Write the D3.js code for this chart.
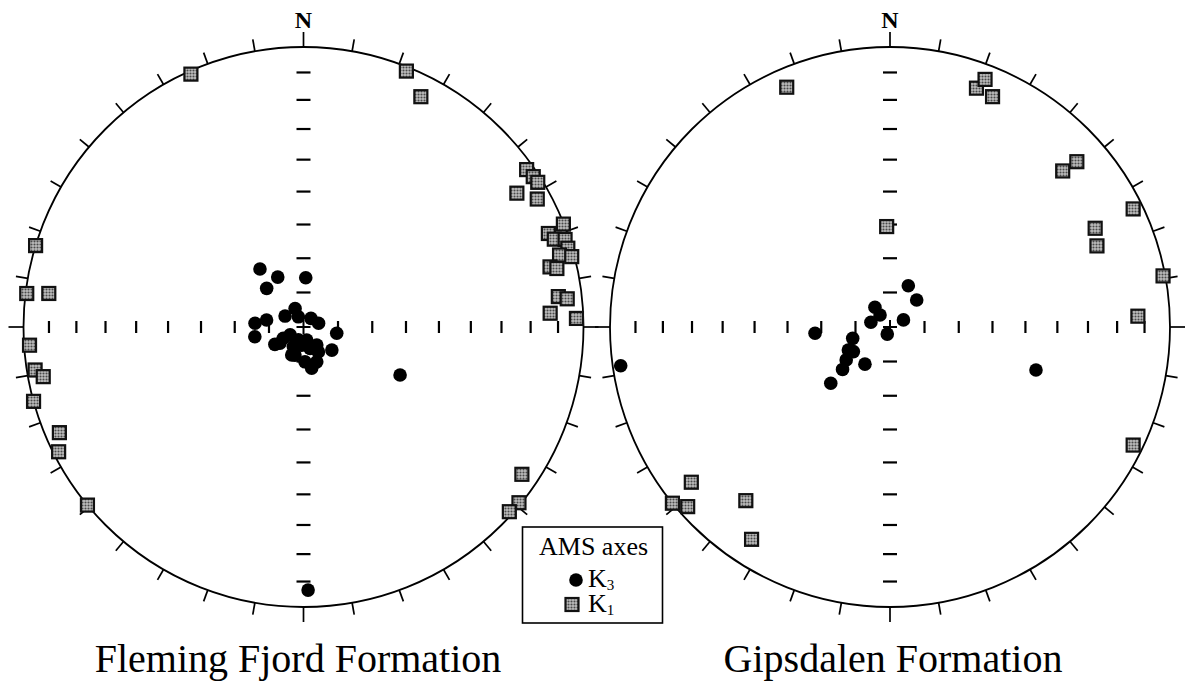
<!DOCTYPE html>
<html>
<head>
  <meta charset="utf-8">
  <script src="https://d3js.org/d3.v7.min.js"></script>
  <style>
    body { margin: 0; background: #fff; }
    text { font-family: "Liberation Serif", "Times New Roman", serif; fill: #000; }
  </style>
</head>
<body>
<script>
// AMS principal axes, lower hemisphere, trend / plunge in degrees

// Fleming Fjord Formation
var flemingK1Trend  = [336.0, 21.9, 27.0, 54.8, 56.8, 58.3, 57.9, 61.3, 68.4, 69.1,
                       70.7, 71.5, 73.4, 74.3, 75.3, 76.3, 77.0, 83.2, 83.9, 86.8,
                       88.2, 124.0, 129.2, 131.9, 286.9, 276.9, 277.5, 266.2, 260.9, 259.2,
                       254.6, 246.6, 243.0, 230.5];
var flemingK1Plunge = [1.3, 1.7, 8.5, 2.8, 2.2, 1.9, 11.0, 5.4, 0.2, 7.1,
                       5.7, 1.7, 1.7, 5.6, 1.1, 10.3, 7.9, 9.2, 5.9, 12.8,
                       2.8, 6.6, 0.8, 1.4, 0.0, 0.5, 9.1, 2.2, 3.3, 6.0,
                       0.0, 5.6, 2.1, 0.0];
var flemingK3Trend  = [323.1, 332.7, 2.6, 316.4, 335.6, 300.7, 333.2, 40.8, 76.0, 274.4,
                       280.8, 258.7, 238.7, 100.7, 129.2, 196.9, 143.7, 159.2, 240.8, 239.4,
                       201.8, 166.2, 207.4, 163.0, 202.8, 177.5, 149.1, 168.8, 235.3, 185.7,
                       116.4, 179.0];
var flemingK3Plunge = [68.9, 73.7, 75.7, 74.5, 84.1, 83.8, 86.7, 86.7, 85.5, 75.9,
                       79.1, 75.6, 80.3, 80.2, 79.4, 81.5, 83.5, 79.2, 83.3, 85.5,
                       86.0, 86.1, 83.6, 83.5, 81.2, 79.9, 81.6, 77.8, 81.7, 84.7,
                       58.4, 6.7];

// Gipsdalen Formation
var gipsK1Trend  = [336.7, 19.9, 21.0, 24.0, 47.9, 48.5, 64.1, 64.3, 68.6, 79.4,
                    87.5, 358.1, 115.9, 232.0, 231.0, 228.4, 219.7, 213.1];
var gipsK1Plunge = [7.5, 10.2, 5.9, 10.9, 18.0, 11.9, 3.9, 19.8, 21.7, 0.9,
                    12.4, 60.6, 3.9, 10.9, 0.0, 3.8, 20.5, 10.4];
var gipsK3Trend  = [23.9, 44.7, 322.7, 320.2, 283.9, 62.2, 201.1, 265.2, 253.1, 241.1,
                    236.1, 233.1, 214.0, 228.2, 226.5, 106.4, 261.8];
var gipsK3Plunge = [76.9, 79.0, 82.8, 85.5, 84.3, 85.6, 87.8, 68.1, 78.7, 76.2,
                    77.2, 74.1, 77.0, 71.5, 66.2, 44.8, 3.2];

var netTitles = ["Fleming Fjord Formation", "Gipsdalen Formation"];
var northLabel = "N";
var legendTitle = "AMS axes";
var legendKeys = [["K", "3"], ["K", "1"]];
var rimTrends = d3.range(0, 360, 10);
var gridPlunges = [10, 20, 30, 40, 50, 60, 70, 80];
var gridTrends = [0, 90, 180, 270];

var width = 1189, height = 684;

var svg = d3.select("body").append("svg")
    .attr("width", width)
    .attr("height", height);

// halftone grey used for the K1 squares
var pat = svg.append("defs").append("pattern")
    .attr("id", "halftone")
    .attr("width", 3).attr("height", 3)
    .attr("patternUnits", "userSpaceOnUse");
pat.append("rect").attr("width", 3).attr("height", 3).attr("fill", "#bdbdbd");
pat.append("circle").attr("cx", 1.5).attr("cy", 1.5).attr("r", 1.05).attr("fill", "#4a4a4a");

// Lambert equal-area (Schmidt net) projection, unit radius
function equalArea(trend, plunge) {
  var rad = Math.PI / 180;
  var r = Math.SQRT2 * Math.sin((90 - plunge) * rad / 2);
  return [r * Math.sin(trend * rad), r * Math.cos(trend * rad)];
}

function drawNet(net) {
  var x = d3.scaleLinear().domain([-1, 1]).range([net.cx - net.r, net.cx + net.r]);
  var y = d3.scaleLinear().domain([-1, 1]).range([net.cy + net.r, net.cy - net.r]);
  var g = svg.append("g");

  g.append("circle")
      .attr("cx", x(0)).attr("cy", y(0))
      .attr("r", x(1) - x(0))
      .attr("fill", "none")
      .attr("stroke", "#000")
      .attr("stroke-width", 1.8);

  // ticks round the primitive every 10 degrees
  g.selectAll(".rim").data(rimTrends).enter().append("line")
      .attr("class", "rim")
      .each(function(t) {
        var s = Math.sin(t * Math.PI / 180), c = Math.cos(t * Math.PI / 180);
        var len = (t % 90 === 0) ? 15 : 12;
        var x0 = x(s), y0 = y(c);
        d3.select(this)
            .attr("x1", x0).attr("y1", y0)
            .attr("x2", x0 + len * s).attr("y2", y0 - len * c);
      })
      .attr("stroke", "#000")
      .attr("stroke-width", 1.7);

  // plunge ticks along the N-S and E-W diameters
  var grid = [];
  gridTrends.forEach(function(t) {
    gridPlunges.forEach(function(p) { grid.push({t: t, p: p}); });
  });
  g.selectAll(".grid").data(grid).enter().append("line")
      .attr("class", "grid")
      .each(function(d) {
        var pt = equalArea(d.t, d.p);
        var px = x(pt[0]), py = y(pt[1]);
        var sel = d3.select(this);
        if (d.t % 180 === 0) {
          sel.attr("x1", px - 7).attr("x2", px + 7).attr("y1", py).attr("y2", py);
        } else {
          sel.attr("x1", px).attr("x2", px).attr("y1", py - 6).attr("y2", py + 6);
        }
      })
      .attr("stroke", "#000")
      .attr("stroke-width", 2.2);

  // centre cross
  g.append("path")
      .attr("d", "M" + (x(0) - 7) + "," + y(0) + "H" + (x(0) + 7) +
                 "M" + x(0) + "," + (y(0) - 7) + "V" + (y(0) + 7))
      .attr("stroke", "#000")
      .attr("stroke-width", 2);

  g.append("text")
      .attr("x", x(0))
      .attr("y", y(1) - 19)
      .attr("text-anchor", "middle")
      .style("font-size", "24px")
      .style("font-weight", "bold")
      .text(northLabel);

  var k3 = net.k3T.map(function(t, i) { return equalArea(t, net.k3P[i]); });
  g.selectAll(".k3").data(k3).enter().append("circle")
      .attr("class", "k3")
      .attr("cx", function(d) { return x(d[0]); })
      .attr("cy", function(d) { return y(d[1]); })
      .attr("r", 6.8)
      .attr("fill", "#000");

  var k1 = net.k1T.map(function(t, i) { return equalArea(t, net.k1P[i]); });
  g.selectAll(".k1").data(k1).enter().append("rect")
      .attr("class", "k1")
      .attr("x", function(d) { return x(d[0]) - 6.5; })
      .attr("y", function(d) { return y(d[1]) - 6.5; })
      .attr("width", 13).attr("height", 13)
      .attr("fill", "url(#halftone)")
      .attr("stroke", "#111")
      .attr("stroke-width", 2.2);

  svg.append("text")
      .attr("x", net.titleX)
      .attr("y", 672)
      .attr("text-anchor", "middle")
      .style("font-size", "40px")
      .text(net.title);
}

drawNet({cx: 303.5, cy: 327, r: 280, title: netTitles[0], titleX: 298,
         k1T: flemingK1Trend, k1P: flemingK1Plunge, k3T: flemingK3Trend, k3P: flemingK3Plunge});
drawNet({cx: 890, cy: 327, r: 280, title: netTitles[1], titleX: 893,
         k1T: gipsK1Trend, k1P: gipsK1Plunge, k3T: gipsK3Trend, k3P: gipsK3Plunge});

// legend
var lg = svg.append("g");
lg.append("rect")
    .attr("x", 522.5).attr("y", 527)
    .attr("width", 140).attr("height", 96)
    .attr("fill", "#fff")
    .attr("stroke", "#000")
    .attr("stroke-width", 1.6);
lg.append("text")
    .attr("x", 539).attr("y", 555)
    .style("font-size", "26px")
    .text(legendTitle);

lg.append("circle")
    .attr("cx", 576).attr("cy", 580).attr("r", 6.8)
    .attr("fill", "#000");
lg.append("rect")
    .attr("x", 565.5).attr("y", 598).attr("width", 13).attr("height", 13)
    .attr("fill", "url(#halftone)")
    .attr("stroke", "#111")
    .attr("stroke-width", 2.2);

legendKeys.forEach(function(k, i) {
  var t = lg.append("text")
      .attr("x", 588).attr("y", 587 + i * 25)
      .style("font-size", "26px");
  t.append("tspan").text(k[0]);
  t.append("tspan").attr("dy", 3).style("font-size", "15px").text(k[1]);
});
</script>
</body>
</html>
